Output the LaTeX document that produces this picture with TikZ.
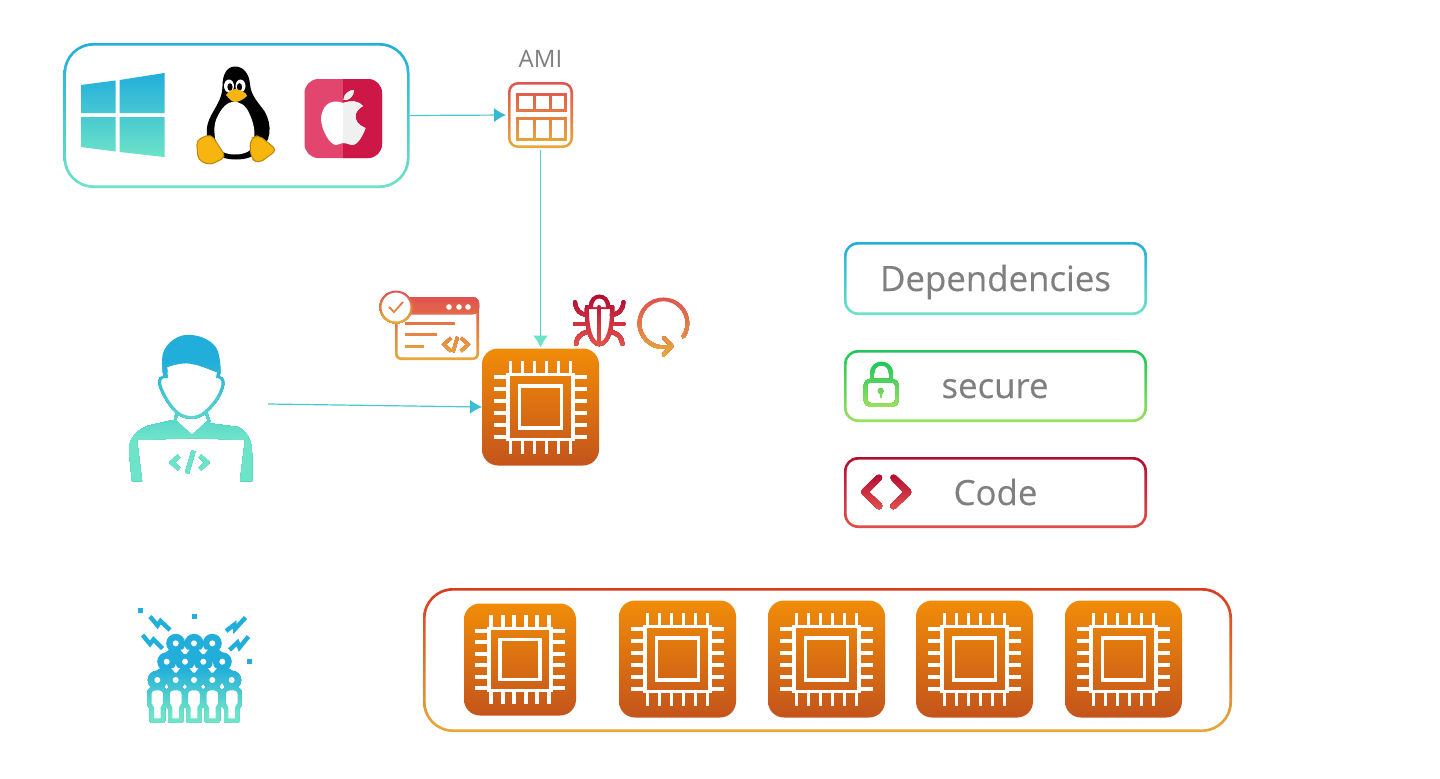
\documentclass[tikz,border=0pt]{standalone}
\usepackage{fontspec}
\setmainfont{Open Sans}
\newfontfamily\labelfont{Open Sans}[FakeBold=0.25]
\usetikzlibrary{arrows.meta}

\definecolor{skyblue}{HTML}{22AEDB}
\definecolor{mintgreen}{HTML}{6DE3C8}
\definecolor{brickred}{HTML}{E0524F}
\definecolor{ambergold}{HTML}{E8A93A}
\definecolor{rimred}{HTML}{D93A1E}
\definecolor{lockgreen}{HTML}{1FC65C}
\definecolor{limegreen}{HTML}{9BE05C}
\definecolor{winered}{HTML}{B30C33}
\definecolor{coralred}{HTML}{E2504A}
\definecolor{chiptop}{HTML}{F08C08}
\definecolor{chipbottom}{HTML}{C4541C}
\definecolor{applepink}{HTML}{E2456E}
\definecolor{applecrimson}{HTML}{CD1747}
\definecolor{tuxyellow}{HTML}{F6B50F}
\definecolor{labelgrey}{HTML}{7F7F7F}

\newcommand{\gradband}[7]{%
  \foreach \n in {0,...,23}{%
    \pgfmathsetmacro{\bandpc}{\n*100/23}
    \pgfmathsetmacro{\bandtop}{\n==0 ? #2-60 : #2+\n*(#4-#2)/24}
    \colorlet{bandcol}{#6!\bandpc!#5}
    \begin{scope}
      \clip (#1,\bandtop) rectangle (#3,#4+60);
      #7
    \end{scope}
  }%
}

\newcommand{\gradbox}[7]{%
  \node[boxrim, top color=#6, bottom color=#7, minimum width=#3*0.5pt, minimum height=#4*0.5pt, rounded corners=#5] (#1) at #2 {};
  \node[boxhole, minimum width=(#3-5.4)*0.5pt, minimum height=(#4-5.4)*0.5pt, rounded corners=#5-1.3pt] (#1in) at #2 {};
}

\newcommand{\chipicon}[4]{%
  \node[chipbox, minimum size=#4*0.5pt] (#1) at (#2,#3) {};
  \begin{scope}[shift={(#2,#3)}, scale=#4/117]
    \draw[chipline] (-32.5,-32.5) rectangle (32.5,32.5);
    \draw[chipline] (-21,-21) rectangle (21,21);
    \foreach \p in {-30,-18,...,30} {
      \draw[chipline] (\p,-46.5) -- (\p,-32.5);
      \draw[chipline] (\p,32.5) -- (\p,46.5);
      \draw[chipline] (-46.5,\p) -- (-32.5,\p);
      \draw[chipline] (32.5,\p) -- (46.5,\p);
    }
  \end{scope}
}

\newcommand{\applepath}{(343,103) .. controls (336,100) and (323,100) .. (321,118)
  .. controls (321,130) and (330,145) .. (336,145)
  .. controls (339,145) and (340,143) .. (344,143)
  .. controls (348,143) and (349,145) .. (352,145)
  .. controls (358,145) and (363,135) .. (365.5,128)
  .. controls (358,125) and (355.5,121) .. (355.5,116)
  .. controls (355.5,112) and (359,108) .. (363,106)
  .. controls (359,101) and (352,100) .. (343,103) -- cycle
  (343.5,100) .. controls (343.5,94) and (349,90) .. (354,90)
  .. controls (354,96) and (349,101) .. (343.5,100) -- cycle}

\begin{document}
\begin{tikzpicture}[
        x=0.5pt, y=-0.5pt,
        boxrim/.style={inner sep=0pt, outer sep=0pt},
        boxhole/.style={fill=white, inner sep=0pt, outer sep=0pt},
        boxlabel/.style={text=labelgrey, anchor=base, font=\labelfont\fontsize{17.4}{20}\selectfont},
        chipbox/.style={inner sep=0pt, outer sep=0pt, rounded corners=8pt, top color=chiptop, bottom color=chipbottom},
        chipline/.style={draw=white, line width=1.8pt},
        link/.style={line width=0.6pt},
        thickline/.style={draw=bandcol, line width=1.5pt},
        boltline/.style={draw=skyblue, line width=2.2pt, line join=miter},
        bugline/.style={draw=bandcol, line width=2pt, line cap=round},
      ]

      \path[use as bounding box, fill=white] (0,0) rectangle (1440,778);

      \gradbox{osbox}{(236.5,115.5)}{346}{145}{15pt}{skyblue}{mintgreen}
      \gradbox{amibox}{(540.5,115)}{65}{66}{5pt}{brickred}{ambergold}
      \gradbox{depbox}{(995.5,278.5)}{303}{73}{7pt}{skyblue}{mintgreen}
      \gradbox{securebox}{(995.5,386)}{303}{72}{7pt}{lockgreen}{limegreen}
      \gradbox{codebox}{(995.5,492.5)}{303}{71}{7pt}{winered}{coralred}
      \gradbox{fleetbox}{(827.5,660)}{809}{144}{15pt}{rimred}{ambergold}

      \node[boxlabel, anchor=center, font=\fontsize{12}{14}\selectfont] (amitext) at (540.5,59) {AMI};
      \node[boxlabel] (deptext) at (995.5,291) {Dependencies};
      \node[boxlabel] (securetext) at (995,398) {secure};
      \node[boxlabel] (codetext) at (995.5,505) {Code};

      \chipicon{mainchip}{540.5}{407}{117}
      \chipicon{fleetone}{520}{659.5}{112}
      \chipicon{fleettwo}{677.5}{659}{117}
      \chipicon{fleetthree}{826.5}{659}{117}
      \chipicon{fleetfour}{974.5}{659}{117}
      \chipicon{fleetfive}{1123.5}{659}{117}

      \shade[top color=skyblue, middle color=skyblue!85!mintgreen, bottom color=mintgreen]
        (81,85) -- (115.5,80.5) -- (115.5,113) -- (81,113) -- cycle
        (119.7,80) -- (164.5,73) -- (164.5,113) -- (119.7,113) -- cycle
        (81,117) -- (115.5,117) -- (115.5,151.5) -- (81,147) -- cycle
        (119.7,117) -- (164.5,117) -- (164.5,157) -- (119.7,152) -- cycle;

      \fill[black] (235,66.5) .. controls (227,66.5) and (222.5,74) .. (222.5,86)
        .. controls (222.5,100) and (214,108) .. (209,120)
        .. controls (204,132) and (208,146) .. (214,152)
        .. controls (222,162) and (250,162) .. (258,152)
        .. controls (272,142) and (272,125) .. (265,112)
        .. controls (258,102) and (251,96) .. (250,84)
        .. controls (249,73) and (243,66.5) .. (235,66.5) -- cycle;
      \fill[white] (232,102) .. controls (240,101) and (246,105) .. (250,115)
        .. controls (256,128) and (256,142) .. (250,150)
        .. controls (244,156) and (226,156) .. (220,150)
        .. controls (214,142) and (213,128) .. (216,120)
        .. controls (219,112) and (225,103) .. (232,102) -- cycle;
      \fill[white] (229,86) circle[x radius=5, y radius=6.5];
      \fill[white] (240.5,86) circle[x radius=5, y radius=6.5];
      \fill[black] (230,87) circle[x radius=2.6, y radius=3.8];
      \fill[black] (239.5,87) circle[x radius=2.6, y radius=3.8];
      \fill[tuxyellow] (236,89) .. controls (241,90) and (247,93) .. (247,96)
        .. controls (243,100) and (238,102) .. (235,102)
        .. controls (231,102) and (228,97) .. (226,95)
        .. controls (228,92) and (232,89) .. (236,89) -- cycle;
      \draw[tuxyellow!75!black, fill=tuxyellow, line width=0.5pt, rounded corners=2.5pt]
        (196.5,140) -- (211,134) -- (219.5,147) -- (226,157) -- (210,165) -- (198,160) -- cycle;
      \draw[tuxyellow!75!black, fill=tuxyellow, line width=0.5pt, rounded corners=2.5pt]
        (251,138.5) -- (258.5,135) -- (277,150) -- (258.5,163.5) -- (251.5,158.5) -- (250,147) -- cycle;

      \node[inner sep=0pt, outer sep=0pt, fill=applepink, rounded corners=7pt, minimum width=38.75pt, minimum height=39.5pt] (applebox) at (343.25,118.5) {};
      \begin{scope}
        \clip (343,70) rectangle (390,165);
        \fill[applecrimson, rounded corners=7pt] (304.5,79) rectangle (382,158);
      \end{scope}
      \fill[white] \applepath;
      \begin{scope}
        \clip (343,85) rectangle (370,150);
        \fill[black!6] \applepath;
      \end{scope}

      \gradband{510}{85}{571}{146}{brickred}{ambergold}{
        \draw[thickline] (517.5,94) rectangle (565,110);
        \draw[thickline] (517.5,118) rectangle (565,139);
        \draw[thickline] (534,94) -- (534,110);
        \draw[thickline] (550,94) -- (550,110);
        \draw[thickline] (534,118) -- (534,139);
        \draw[thickline] (550,118) -- (550,139);
      }

      \gradband{125}{360}{256}{440}{skyblue}{mintgreen}{
        \fill[bandcol] (132,481) -- (129,452) .. controls (129,442) and (132,433) .. (147,426)
          -- (173,420) -- (177,423) -- (192,438) -- (207,423) -- (238,427)
          .. controls (248,432) and (252,442) .. (252,453) -- (252,481) -- (240,481) -- (245,440)
          -- (193,438) -- (137,440) -- (142,481) -- cycle;
        \draw[bandcol, line width=1.2pt] (177,412) -- (175,421) -- (192,437) -- (209,421) -- (206,412);
        \fill[white] (163,372) .. controls (159,378) and (159,383) .. (161,388)
          .. controls (166,400) and (172,408) .. (178,413)
          .. controls (186,419) and (198,419) .. (205,412)
          .. controls (212,406) and (219,398) .. (222,388)
          .. controls (224,383) and (223,378) .. (219,372) -- cycle;
        \draw[bandcol, line width=1.4pt] (163,377) .. controls (159,378) and (159,383) .. (161,388)
          .. controls (166,400) and (172,408) .. (178,413)
          .. controls (186,419) and (198,419) .. (205,412)
          .. controls (212,406) and (219,398) .. (222,388)
          .. controls (224,383) and (223,378) .. (219,377);
        \fill[bandcol] (185,335) .. controls (176,336) and (162,345) .. (162,360)
          -- (163,378) -- (168,378) -- (167,367)
          .. controls (176,364) and (186,362) .. (192,364)
          .. controls (200,365) and (208,369) .. (217,372) -- (216,378) -- (220,378)
          .. controls (221,365) and (220,352) .. (215,346)
          .. controls (208,338) and (196,334) .. (185,335) -- cycle;
        \draw[bandcol, line width=2pt] (179,456) -- (172,462.5) -- (179,469);
        \draw[bandcol, line width=2pt] (193.5,451) -- (187,473);
        \draw[bandcol, line width=2pt] (200,456) -- (207,462.5) -- (200,469);
      }
      \coordinate (devout) at (268,404);

      \draw[boltline] (150,616.5) -- (157.5,625.5) -- (160.5,621) -- (170,630);
      \draw[boltline] (142.5,635) -- (150,644) -- (153.5,639.5) -- (162.5,648.5);
      \draw[boltline] (226,631) -- (234.5,624.5) -- (235,629) -- (245.5,617.5);
      \draw[boltline] (229.5,650) -- (237.5,642.5) -- (239.5,647.5) -- (248.5,636.5);
      \fill[skyblue] (137.5,608) rectangle (142.5,613);
      \fill[skyblue] (192,613.5) rectangle (197,618.5);
      \fill[skyblue] (247,658.5) rectangle (252,663.5);

      \gradband{140}{668}{250}{715}{skyblue}{mintgreen}{
        \foreach \hx/\hy in {175.7/643.3,194/643.3,212.3/643.3,166.7/661.7,185/661.7,203.3/661.7,222.3/661.7} {
          \fill[bandcol] (\hx-11,\hy+18) -- (\hx-11,\hy+12) .. controls (\hx-11,\hy+8) and (\hx-5,\hy+5) .. (\hx,\hy+5)
            .. controls (\hx+5,\hy+5) and (\hx+11,\hy+8) .. (\hx+11,\hy+12) -- (\hx+11,\hy+18) -- cycle;
        }
        \foreach \hx/\hy in {175.7/643.3,194/643.3,212.3/643.3,166.7/661.7,185/661.7,203.3/661.7,222.3/661.7,157.3/680,175.7/680,194/680,212.3/680,231.7/680} {
          \fill[bandcol] (\hx,\hy) circle[radius=9.5];
          \fill[white] (\hx,\hy) circle[radius=3];
        }
        \foreach \hx/\hy in {185/661.7,203.3/661.7,175.7/680,194/680,212.3/680} {
          \fill[white] (\hx-4.5,\hy-12) -- (\hx+4.5,\hy-12) -- (\hx+1,\hy-7.5) -- (\hx-1,\hy-7.5) -- cycle;
        }
        \foreach \hx in {157.3,175.7,194,212.3,231.7} {
          \draw[bandcol, line width=2.2pt, line join=round, fill=white]
            (\hx-8,704) -- (\hx-8,694) .. controls (\hx-8,690) and (\hx-5,688) .. (\hx,688)
            .. controls (\hx+5,688) and (\hx+8,690) .. (\hx+8,694) -- (\hx+8,704)
            -- (\hx+5.5,708) -- (\hx+5.5,720.5) -- (\hx-5.5,720.5) -- (\hx-5.5,708) -- cycle;
        }
      }

      \gradbox{codewin}{(437,328.5)}{84}{63}{3pt}{brickred}{ambergold}
      \gradband{390}{297}{484}{360}{brickred}{ambergold}{
        \fill[bandcol, rounded corners=3pt] (395,314) -- (395,297) -- (479,297) -- (479,314) -- cycle;
        \draw[bandcol, line width=1.5pt] (405,323) -- (455,323);
        \draw[bandcol, line width=1.5pt] (405,334) -- (437,334);
        \draw[bandcol, line width=1.5pt] (405,346) -- (424,346);
        \draw[bandcol, line width=1.5pt] (451,338) -- (444,344.5) -- (451,351);
        \draw[bandcol, line width=1.5pt] (457.5,337) -- (453,352);
        \draw[bandcol, line width=1.5pt] (461,338) -- (468,344.5) -- (461,351);
      }
      \fill[white] (449,307) circle[radius=2.8];
      \fill[white] (459,307) circle[radius=2.8];
      \fill[white] (468,307) circle[radius=2.8];
      \gradband{378}{291}{414}{323}{brickred}{ambergold}{
        \draw[bandcol, line width=1pt, fill=white] (396,307) circle[radius=15.5];
        \draw[bandcol, line width=0.9pt] (389,307) -- (394,312) -- (403,302);
      }

      \gradband{565}{295}{633}{346}{winered}{coralred}{
        \draw[bugline, fill=white] (587,307) -- (612,307)
          .. controls (612.5,328) and (608,344) .. (599.3,344)
          .. controls (591,344) and (586.5,328) .. (587,307) -- cycle;
        \draw[bugline, fill=white] (591,307) .. controls (591,300) and (595,296.5) .. (599.3,296.5)
          .. controls (604,296.5) and (608,300) .. (608,307);
        \draw[bugline] (599.3,307) -- (599.3,344);
        \draw[bugline] (575,302) .. controls (576,311) and (580,314) .. (587,315);
        \draw[bugline] (623.5,302) .. controls (622.5,311) and (618.5,314) .. (611.5,315);
        \draw[bugline] (575,323.5) -- (587,323.5);
        \draw[bugline] (623.5,323.5) -- (611.5,323.5);
        \draw[bugline] (576,344) .. controls (577,337) and (580,334) .. (587,332);
        \draw[bugline] (622.5,344) .. controls (621.5,337) and (618.5,334) .. (611.5,332);
      }

      \gradband{632}{297}{695}{358}{brickred}{ambergold}{
        \draw[bandcol, line width=1.8pt, line cap=round] (683.3,336.7) arc[start angle=-34, end angle=289, radius=12pt];
        \draw[bandcol, line width=1.8pt, line cap=round, line join=round] (663.3,337.3) -- (671.7,346) -- (663.3,355);
      }

      \gradband{855}{362}{905}{408}{lockgreen}{limegreen}{
        \draw[bandcol, line width=1.9pt] (872,381) -- (872,374) .. controls (872,360) and (891,360) .. (891,374) -- (891,381);
        \draw[bandcol, line width=1.8pt, rounded corners=2.5pt] (865.5,380.5) rectangle (897,405);
        \fill[bandcol] (880.7,391) circle[radius=2.8];
        \draw[bandcol, line width=1.1pt] (880.7,391) -- (880.7,398);
      }

      \gradband{855}{474}{918}{510}{winered}{coralred}{
        \draw[bandcol, line width=3.2pt, line cap=round, line join=round] (879,477.5) -- (864.5,492) -- (879,506);
        \draw[bandcol, line width=3.2pt, line cap=round, line join=round] (893.5,477.5) -- (908,492) -- (893.5,506);
      }

      \draw[link, draw=skyblue!50!mintgreen, -{Latex[length=6pt,width=7pt,color=skyblue!80!mintgreen]}, shorten >=1pt] (osbox.east) -- (amibox.west);
      \draw[link, draw=skyblue!40!mintgreen, -{Latex[length=6pt,width=7.5pt,color=mintgreen]}, shorten <=1pt, shorten >=0.5pt] (amibox.south) -- (mainchip.north);
      \draw[link, draw=skyblue!50!mintgreen, -{Latex[length=6pt,width=7pt,color=skyblue!70!mintgreen]}] (devout) -- (mainchip.west);

    \end{tikzpicture}
\end{document}
